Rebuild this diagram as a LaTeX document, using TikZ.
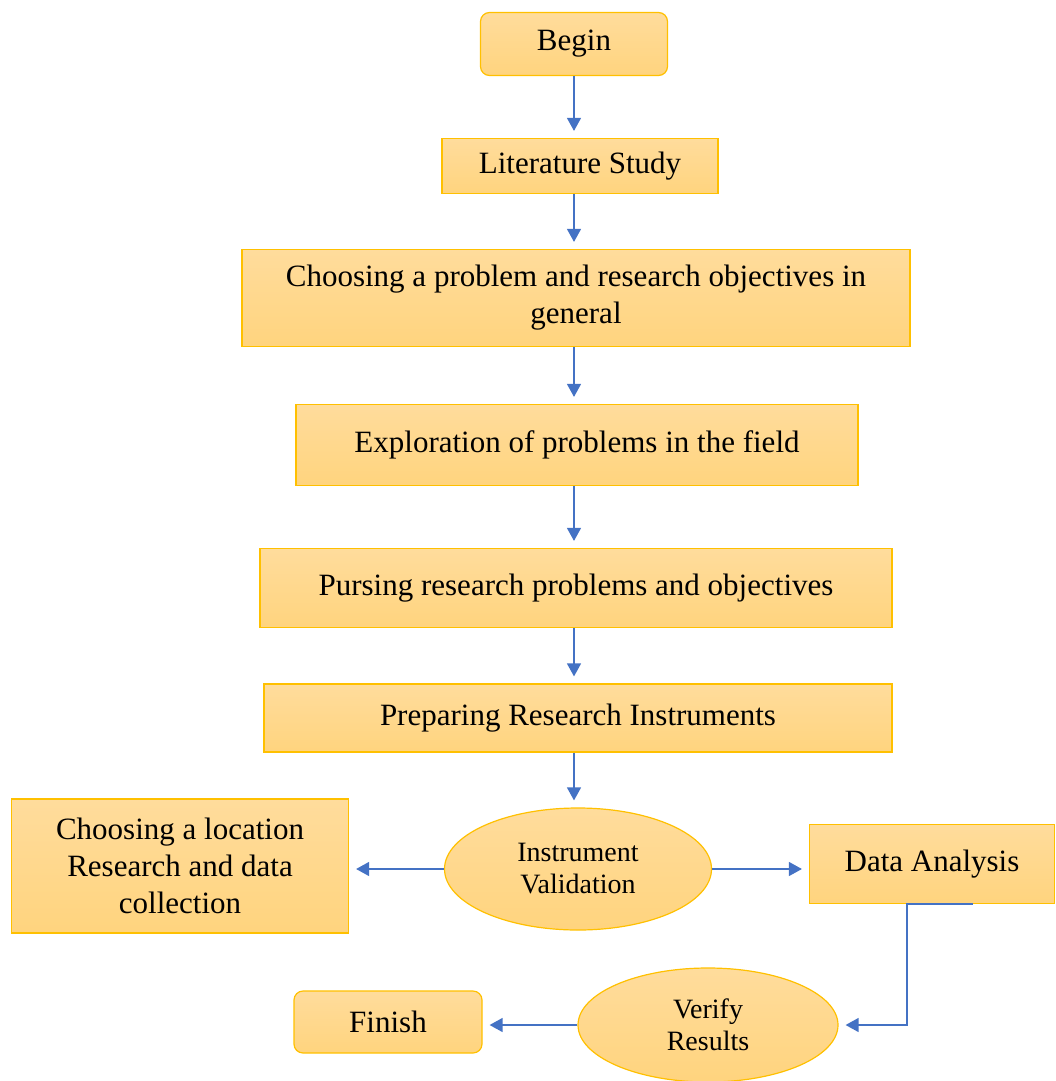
\documentclass[tikz,border=0pt]{standalone}
\usepackage{fontspec}
\setmainfont{Liberation Serif}
\usetikzlibrary{arrows.meta,positioning,shapes.geometric}
\definecolor{Amber}{HTML}{FFC000}
\definecolor{Peach}{HTML}{FFDC9C}
\definecolor{Honey}{HTML}{FFD47E}
\definecolor{Azure}{HTML}{4472C4}

\begin{document}
\begin{tikzpicture}[x=1pt,y=-1pt,
    stepbox/.style={draw=Amber,line width=1.2pt,top color=Peach,bottom color=Honey,
      align=center,inner sep=0pt,font=\fontsize{31}{37}\selectfont},
    roundbox/.style={stepbox,rounded corners=9pt},
    oval/.style={stepbox,ellipse,font=\fontsize{28}{32}\selectfont},
    flow/.style={-{Triangle[length=13pt,width=14pt]},Azure,line width=1.3pt,shorten >=7pt}]
        \useasboundingbox (0,0) rectangle (1055,1081);

        % main column
        \node[roundbox,minimum width=187pt,minimum height=63pt] (begin) at (574,44) {Begin};
        \node[stepbox,minimum width=276pt,minimum height=55pt] (lit) at (580,166) {Literature Study};
        \node[stepbox,minimum width=668pt,minimum height=97pt] (choose) at (576,298)
          {Choosing a problem and research objectives in\\general};
        \node[stepbox,minimum width=562pt,minimum height=81pt] (explore) at (577,445) {Exploration of problems in the field};
        \node[stepbox,minimum width=632pt,minimum height=79pt] (pursue) at (576,588) {Pursing research problems and objectives};
        \node[stepbox,minimum width=628pt,minimum height=68pt] (prepare) at (578,718) {Preparing Research Instruments};
        \node[oval,minimum width=267pt,minimum height=122pt] (validate) at (578,869) {Instrument\\Validation};

        % side branches
        \node[stepbox,minimum width=337pt,minimum height=134pt] (location) at (180,866)
          {Choosing a location\\Research and data\\collection};
        \node[stepbox,minimum width=245pt,minimum height=79pt] (analysis) at (932,864) {Data Analysis};
        \node[oval,minimum width=260pt,minimum height=114pt] (verify) at (708,1025) {Verify\\Results};
        \node[roundbox,minimum width=188pt,minimum height=62pt] (finish) at (388,1022) {Finish};

        \draw[flow] (begin.south) -- (begin.south |- lit.north);
        \draw[flow] (lit.south -| begin.south) -- (begin.south |- choose.north);
        \draw[flow] (choose.south -| begin.south) -- (begin.south |- explore.north);
        \draw[flow] (explore.south -| begin.south) -- (begin.south |- pursue.north);
        \draw[flow] (pursue.south -| begin.south) -- (begin.south |- prepare.north);
        \draw[flow] (prepare.south -| begin.south) -- (begin.south |- validate.north);

        \draw[flow] (validate.west) -- (validate.west -| location.east);
        \draw[flow] (validate.east) -- (validate.east -| analysis.west);

        \coordinate (elbow) at ([xshift=41pt]analysis.south);
        \draw[flow] (elbow) -- ++(-66,0) |- (verify.east);
        \draw[flow] (verify.west) -- (verify.west -| finish.east);
      \end{tikzpicture}
\end{document}
